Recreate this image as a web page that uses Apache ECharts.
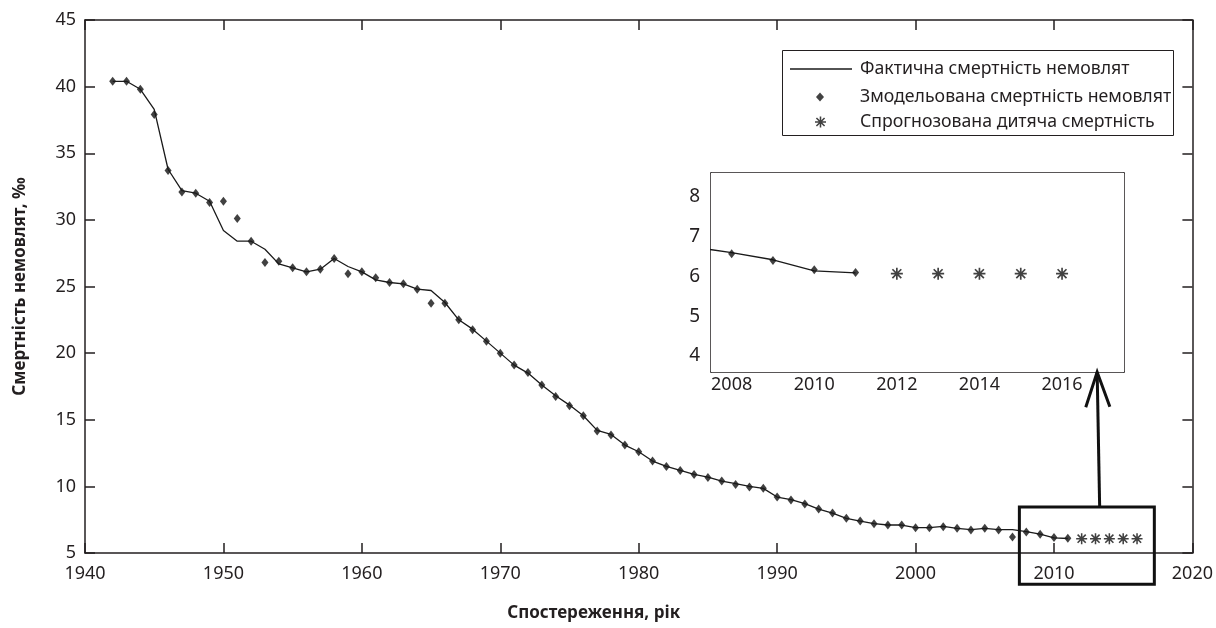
<!DOCTYPE html>
<html>
<head>
<meta charset="utf-8">
<script src="https://cdn.jsdelivr.net/npm/echarts@6/dist/echarts.min.js"></script>
<style>
  html, body { margin: 0; padding: 0; background: #fff; }
  #chart { width: 1216px; height: 628px; }
</style>
</head>
<body>
<div id="chart"></div>
<script>
// observed years
const years = [
  1942, 1943, 1944, 1945, 1946, 1947, 1948, 1949, 1950, 1951,
  1952, 1953, 1954, 1955, 1956, 1957, 1958, 1959, 1960, 1961,
  1962, 1963, 1964, 1965, 1966, 1967, 1968, 1969, 1970, 1971,
  1972, 1973, 1974, 1975, 1976, 1977, 1978, 1979, 1980, 1981,
  1982, 1983, 1984, 1985, 1986, 1987, 1988, 1989, 1990, 1991,
  1992, 1993, 1994, 1995, 1996, 1997, 1998, 1999, 2000, 2001,
  2002, 2003, 2004, 2005, 2006, 2007, 2008, 2009, 2010, 2011
];
// actual infant mortality (line)
const actual = [
  40.4, 40.4, 39.8, 38.3, 33.8, 32.2, 32.0, 31.4, 29.2, 28.4,
  28.4, 27.8, 26.7, 26.4, 26.1, 26.3, 27.1, 26.5, 26.1, 25.5,
  25.3, 25.2, 24.8, 24.7, 23.8, 22.5, 21.8, 20.9, 20.0, 19.1,
  18.5, 17.6, 16.8, 16.1, 15.3, 14.2, 13.9, 13.1, 12.6, 11.9,
  11.5, 11.2, 10.9, 10.7, 10.4, 10.2, 10.0, 9.85, 9.2, 9.0,
  8.7, 8.3, 8.0, 7.6, 7.4, 7.2, 7.1, 7.1, 6.9, 6.9,
  7.0, 6.85, 6.75, 6.85, 6.75, 6.75, 6.6, 6.42, 6.14, 6.09
];
// modelled infant mortality (diamonds)
const modeled = [
  40.4, 40.4, 39.8, 37.9, 33.7, 32.1, 32.0, 31.3, 31.4, 30.1,
  28.4, 26.8, 26.9, 26.4, 26.1, 26.3, 27.1, 25.95, 26.1, 25.65,
  25.3, 25.2, 24.8, 23.75, 23.75, 22.5, 21.75, 20.9, 20.0, 19.1,
  18.55, 17.6, 16.75, 16.05, 15.3, 14.15, 13.85, 13.1, 12.6, 11.9,
  11.5, 11.2, 10.9, 10.67, 10.4, 10.15, 9.95, 9.85, 9.2, 8.97,
  8.67, 8.3, 8.0, 7.6, 7.4, 7.2, 7.1, 7.1, 6.9, 6.9,
  6.97, 6.85, 6.72, 6.85, 6.72, 6.2, 6.57, 6.4, 6.17, 6.1
];
// forecast (asterisks)
const forecastYears = [2012, 2013, 2014, 2015, 2016];
const forecast = [6.07, 6.07, 6.07, 6.07, 6.07];

const insetXTicks = [2008, 2010, 2012, 2014, 2016];
const insetYTicks = [4, 5, 6, 7, 8];

const nameActual = 'Фактична смертність немовлят';
const nameModeled = 'Змодельована смертність немовлят';
const nameForecast = 'Спрогнозована дитяча смертність';

const pairs = (xs, ys) => xs.map((x, i) => [x, ys[i]]);
const plain = v => String(v);

const ink = '#231f20';
const font = 'Noto Sans';
const star = 'path://M0 4.3H10V5.7H0ZM4.3 0H5.7V10H4.3ZM0.8 1.8L1.8 0.8L9.2 8.2L8.2 9.2ZM8.2 0.8L9.2 1.8L1.8 9.2L0.8 8.2Z';

const axisLine = { lineStyle: { color: ink, width: 1.5 } };
const hideLabel = { show: false };

function frameAxis(grid, pos, extra) {
  return Object.assign({
    type: 'value', gridIndex: grid, position: pos,
    axisLine: axisLine,
    splitLine: { show: false },
    axisLabel: hideLabel
  }, extra);
}

const legendText = { fontFamily: font, fontSize: 17.7, color: ink, lineHeight: 22 };

const chart = echarts.init(document.getElementById('chart'));

const option = {
  backgroundColor: '#fff',
  animation: false,
  textStyle: { fontFamily: font, color: ink },
  grid: [
    { left: 85, right: 17, top: 20, bottom: 75 },
    { left: 711, top: 173, width: 413, height: 199, show: true, backgroundColor: '#fff', borderWidth: 0, z: 3 }
  ],
  legend: [
    {
      data: [{ name: nameActual, icon: 'rect' }], left: 790, top: 58, padding: 0, selectedMode: false,
      itemWidth: 62, itemHeight: 1.3,
      textStyle: Object.assign({ padding: [0, 0, 0, 3] }, legendText)
    },
    {
      data: [nameModeled], left: 816, top: 86, padding: 0, selectedMode: false,
      itemWidth: 8, itemHeight: 9,
      textStyle: Object.assign({ padding: [0, 0, 0, 31] }, legendText)
    },
    {
      data: [nameForecast], left: 815, top: 111, padding: 0, selectedMode: false,
      itemWidth: 11, itemHeight: 11,
      textStyle: Object.assign({ padding: [0, 0, 0, 29] }, legendText)
    }
  ],
  xAxis: [
    frameAxis(0, 'bottom', {
      min: 1940, max: 2020, interval: 10,
      axisTick: { inside: true, length: 10, lineStyle: { color: ink, width: 1.5 } },
      axisLabel: { fontSize: 18, color: ink, margin: 12, formatter: plain },
      name: 'Спостереження, рік', nameLocation: 'middle', nameGap: 52,
      nameTextStyle: { fontWeight: 'bold', fontSize: 17, color: ink, padding: [0, 90, 0, 0] }
    }),
    frameAxis(0, 'top', {
      min: 1940, max: 2020, interval: 10,
      axisTick: { inside: true, length: 10, lineStyle: { color: ink, width: 1.5 } }
    }),
    frameAxis(1, 'bottom', {
      min: 2007.5, max: 2017.5,
      axisTick: { inside: true, length: 5, customValues: insetXTicks, lineStyle: { color: ink, width: 1.2 } },
      axisLabel: { fontSize: 18, color: ink, margin: 4, customValues: insetXTicks, formatter: plain }
    }),
    frameAxis(1, 'top', {
      min: 2007.5, max: 2017.5,
      axisTick: { inside: true, length: 5, customValues: insetXTicks, lineStyle: { color: ink, width: 1.2 } }
    })
  ],
  yAxis: [
    frameAxis(0, 'left', {
      min: 5, max: 45, interval: 5,
      axisTick: { inside: true, length: 10, lineStyle: { color: ink, width: 1.5 } },
      axisLabel: { fontSize: 18, color: ink, margin: 9, formatter: plain },
      name: 'Смертність немовлят, ‰', nameLocation: 'middle', nameGap: 56,
      nameTextStyle: { fontWeight: 'bold', fontSize: 17, color: ink }
    }),
    frameAxis(0, 'right', {
      min: 5, max: 45, interval: 5,
      axisTick: { inside: true, length: 10, lineStyle: { color: ink, width: 1.5 } }
    }),
    frameAxis(1, 'left', {
      min: 3.6, max: 8.6,
      axisTick: { inside: true, length: 5, customValues: insetYTicks, lineStyle: { color: ink, width: 1.2 } },
      axisLabel: { fontSize: 19, color: ink, margin: 11, customValues: insetYTicks, formatter: plain }
    }),
    frameAxis(1, 'right', {
      min: 3.6, max: 8.6,
      axisTick: { inside: true, length: 5, customValues: insetYTicks, lineStyle: { color: ink, width: 1.2 } }
    })
  ],
  series: [
    {
      name: nameActual, type: 'line', xAxisIndex: 0, yAxisIndex: 0,
      data: pairs(years, actual), symbol: 'none',
      lineStyle: { color: '#1a1a1a', width: 1.3 }, itemStyle: { color: '#1a1a1a' }
    },
    {
      name: nameModeled, type: 'scatter', xAxisIndex: 0, yAxisIndex: 0,
      data: pairs(years, modeled), symbol: 'diamond', symbolSize: [7, 9],
      itemStyle: { color: '#111' }
    },
    {
      name: nameForecast, type: 'scatter', xAxisIndex: 0, yAxisIndex: 0,
      data: pairs(forecastYears, forecast), symbol: star, symbolSize: 11,
      itemStyle: { color: '#111' }
    },
    {
      name: nameActual, type: 'line', xAxisIndex: 2, yAxisIndex: 2, z: 4,
      data: pairs(years, actual), symbol: 'none',
      lineStyle: { color: '#1a1a1a', width: 1.3 }
    },
    {
      name: nameModeled, type: 'scatter', xAxisIndex: 2, yAxisIndex: 2, z: 4,
      data: pairs(years, modeled), symbol: 'diamond', symbolSize: [7, 9],
      itemStyle: { color: '#111' }
    },
    {
      name: nameForecast, type: 'scatter', xAxisIndex: 2, yAxisIndex: 2, z: 4,
      data: pairs(forecastYears, forecast), symbol: star, symbolSize: 12,
      itemStyle: { color: '#111' }
    }
  ]
};

chart.setOption(option);

// zoom box, arrow to the inset, legend frame
const boxA = chart.convertToPixel({ gridIndex: 0 }, [2007.5, 8.45]);
const boxB = chart.convertToPixel({ gridIndex: 0 }, [2017.25, 2.65]);
const tail = chart.convertToPixel({ gridIndex: 0 }, [2013.3, 8.45]);
const tip = chart.convertToPixel({ gridIndex: 1 }, [2016.85, 3.6]);

const dx = tail[0] - tip[0], dy = tail[1] - tip[1];
const len = Math.sqrt(dx * dx + dy * dy);
const ux = dx / len, uy = dy / len;
const headLen = 37, ang = 19 * Math.PI / 180;
function rot(a) {
  return [tip[0] + headLen * (ux * Math.cos(a) - uy * Math.sin(a)),
          tip[1] + headLen * (ux * Math.sin(a) + uy * Math.cos(a))];
}

chart.setOption({
  graphic: [
    {
      type: 'rect', z: 1,
      shape: { x: 782.5, y: 50.5, width: 391, height: 85 },
      style: { fill: '#fff', stroke: ink, lineWidth: 1 }
    },
    {
      type: 'rect', z: 10,
      shape: { x: boxA[0], y: boxA[1], width: boxB[0] - boxA[0], height: boxB[1] - boxA[1] },
      style: { fill: null, stroke: '#111', lineWidth: 3 }
    },
    {
      type: 'line', z: 10,
      shape: { x1: tail[0], y1: tail[1], x2: tip[0], y2: tip[1] },
      style: { stroke: '#111', lineWidth: 3 }
    },
    {
      type: 'polyline', z: 10,
      shape: { points: [rot(ang), tip, rot(-ang)] },
      style: { stroke: '#111', lineWidth: 3, fill: null }
    }
  ]
});
</script>
</body>
</html>
